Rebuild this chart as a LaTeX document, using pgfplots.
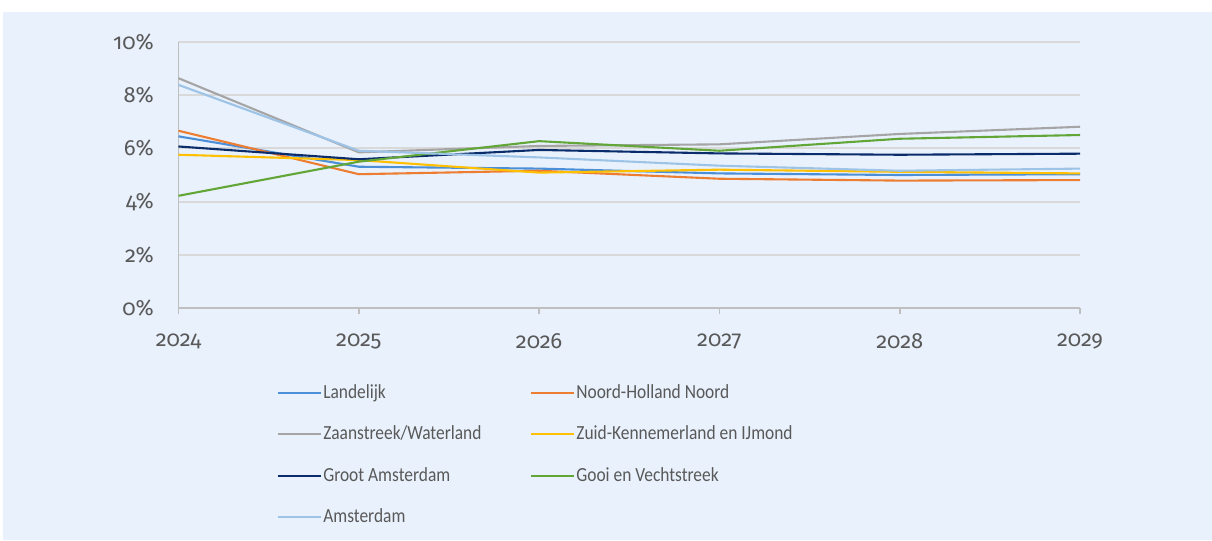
\documentclass[border=0pt]{standalone}
\usepackage{fontspec}
\setmainfont{Carlito}
\newfontfamily\numfont{Fira Sans}[Numbers=OldStyle]
\newfontfamily\legfont{Carlito}[FakeStretch=0.87]
\usepackage{pgfplots}
\pgfplotsset{compat=1.18}
\definecolor{bgc}{HTML}{E9F1FC}
\definecolor{txt}{HTML}{595959}
\definecolor{axl}{HTML}{BFBFBF}
\definecolor{grd}{HTML}{D9D9D9}
\definecolor{cLand}{HTML}{4A8FD8}
\definecolor{cNHN}{HTML}{ED7D31}
\definecolor{cZaan}{HTML}{A5A5A5}
\definecolor{cZK}{HTML}{FFC000}
\definecolor{cGA}{HTML}{0B2C6B}
\definecolor{cGooi}{HTML}{62A638}
\definecolor{cAms}{HTML}{9DC3E6}
\newcommand\ls[1]{\makebox[104bp][l]{\rule[-2.2bp]{0pt}{9bp}\hspace{0.6bp}#1}}
\newcommand\rs[1]{\rule[-2.2bp]{0pt}{9bp}\hspace{0.6bp}#1}
\begin{document}
\begin{tikzpicture}[x=1bp,y=1bp]
\fill[white] (-89.25,-115.85) rectangle (516.75,154.15);
\fill[bgc] (-87.5,-115.85) rectangle (516.75,148.15);
\begin{axis}[
  at={(0,0)}, anchor=south west,
  scale only axis, width=450.75bp, height=133.3bp,
  xmin=2024, xmax=2029, ymin=0, ymax=10,
  xtick={2024,2025,2026,2027,2028,2029},
  ytick={0,2,4,6,8,10},
  axis x line=bottom, axis y line=left,
  axis line style={-, draw=axl, line width=0.9bp},
  ymajorgrids, grid style={draw=grd, line width=0.9bp},
  xtick align=outside, major tick length=2.6bp,
  xtick style={draw=axl, line width=0.9bp},
  ytick style={draw=none},
  /pgf/number format/assume math mode=true,
  xticklabel={\pgfmathprintnumber[1000 sep={},fixed]{\tick}},
  yticklabel={\pgfmathprintnumber{\tick}\%},
  tick label style={font=\numfont\fontsize{11bp}{13bp}\selectfont, text=txt},
  xticklabel style={yshift=-6.5bp},
  yticklabel style={xshift=-7.5bp},
  legend columns=2,
  legend cell align=left,
  legend image code/.code={\draw[#1] (0bp,0bp) -- (21.5bp,0bp);},
  legend style={draw=none, fill=none, inner sep=0pt, outer sep=0pt,
    at={(axis description cs:0.10926,-0.2862)}, anchor=north west,
    row sep=12.2bp, column sep=0pt,
    nodes={inner sep=0pt, text=txt},
    font=\legfont\fontsize{10bp}{12bp}\selectfont},
  every axis plot/.append style={line width=1.05bp, mark=none},
]
\addplot[cLand] coordinates {(2024,6.45) (2025,5.31) (2026,5.24) (2027,5.06) (2028,5.00) (2029,5.03)};
\addlegendentry{\ls{Landelijk}}
\addplot[cNHN] coordinates {(2024,6.66) (2025,5.03) (2026,5.16) (2027,4.86) (2028,4.79) (2029,4.81)};
\addlegendentry{\rs{Noord-Holland Noord}}
\addplot[cZaan] coordinates {(2024,8.63) (2025,5.85) (2026,6.09) (2027,6.15) (2028,6.54) (2029,6.81)};
\addlegendentry{\ls{Zaanstreek/Waterland}}
\addplot[cZK] coordinates {(2024,5.76) (2025,5.56) (2026,5.09) (2027,5.20) (2028,5.12) (2029,5.06)};
\addlegendentry{\rs{Zuid-Kennemerland en IJmond}}
\addplot[cGA] coordinates {(2024,6.07) (2025,5.59) (2026,5.94) (2027,5.81) (2028,5.76) (2029,5.80)};
\addlegendentry{\ls{Groot Amsterdam}}
\addplot[cGooi] coordinates {(2024,4.22) (2025,5.50) (2026,6.27) (2027,5.91) (2028,6.36) (2029,6.50)};
\addlegendentry{\rs{Gooi en Vechtstreek}}
\addplot[cAms] coordinates {(2024,8.38) (2025,5.91) (2026,5.66) (2027,5.35) (2028,5.16) (2029,5.24)};
\addlegendentry{\ls{Amsterdam}}
\end{axis}
\end{tikzpicture}
\end{document}
